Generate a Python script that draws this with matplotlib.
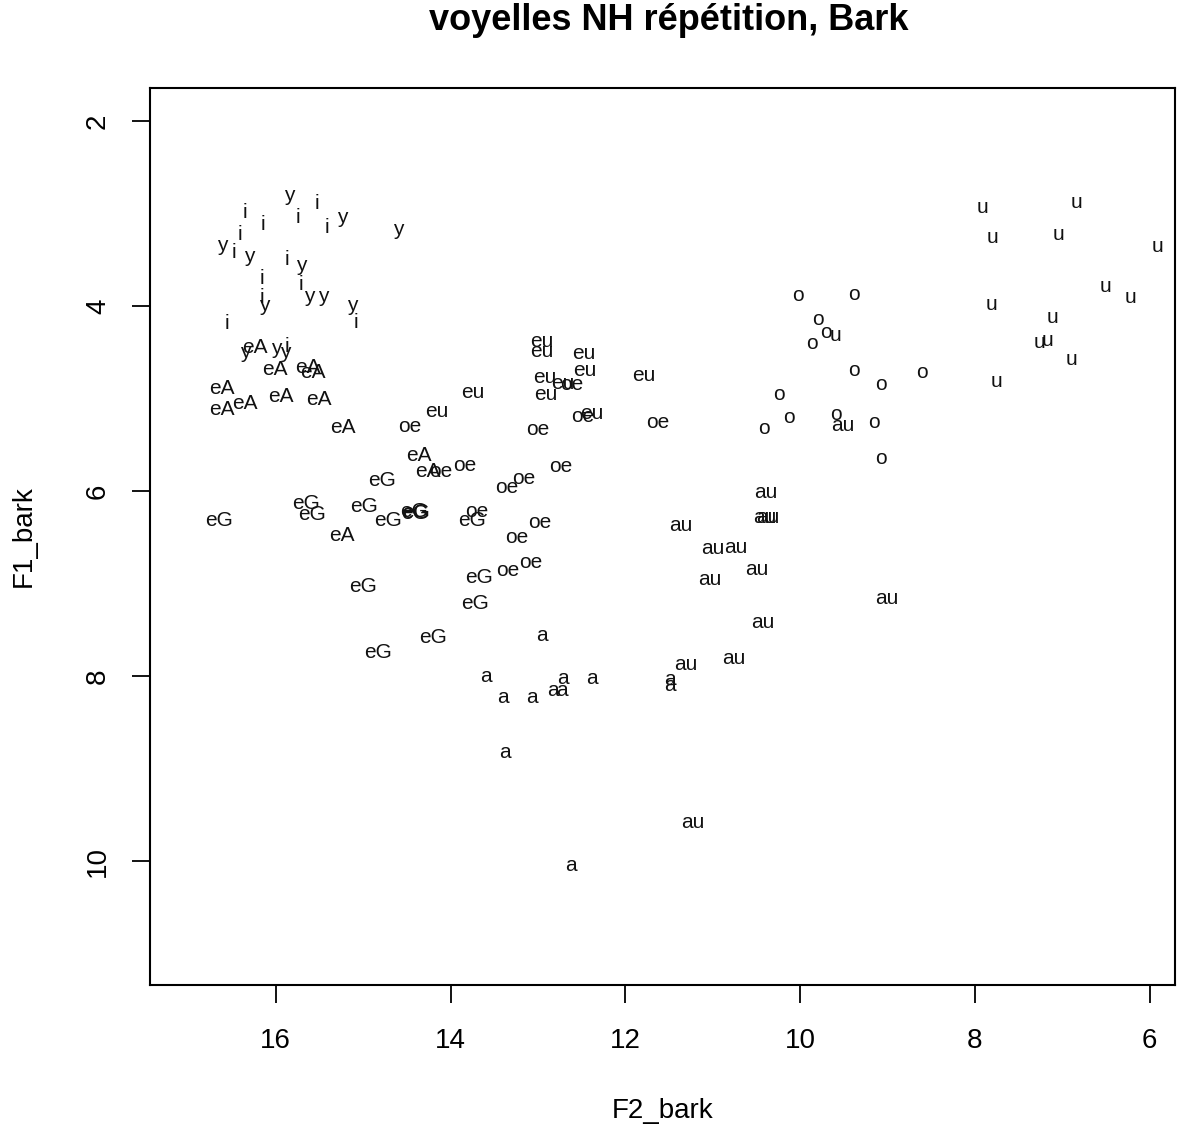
import matplotlib
matplotlib.use("Agg")
import matplotlib.pyplot as plt

plt.rcParams['font.family'] = ['Liberation Sans', 'DejaVu Sans']

# F2 / F1 in Bark, per vowel
i_f2 = [15.53, 16.35, 15.75, 16.15, 15.42, 16.41, 16.48, 15.87, 16.16, 15.71, 16.16, 16.56, 15.08, 15.87]
i_f1 = [2.89, 2.99, 3.04, 3.12, 3.15, 3.23, 3.42, 3.50, 3.70, 3.77, 3.91, 4.19, 4.18, 4.44]

y_f2 = [15.85, 15.24, 14.60, 16.61, 16.30, 15.71, 15.62, 15.46, 16.13, 15.13, 16.35, 15.99, 15.89]
y_f1 = [2.80, 3.04, 3.17, 3.34, 3.46, 3.56, 3.90, 3.90, 3.99, 3.99, 4.50, 4.46, 4.50]

eA_f2 = [16.24, 16.01, 15.63, 15.58, 16.62, 15.94, 15.51, 16.62, 16.35, 15.23, 14.36, 14.26, 15.24]
eA_f1 = [4.45, 4.69, 4.66, 4.72, 4.89, 4.98, 5.01, 5.12, 5.05, 5.31, 5.61, 5.79, 6.48]

eG_f2 = [14.78, 16.65, 15.65, 15.59, 14.99, 14.72, 14.42, 14.40, 14.41, 13.76, 15.00, 13.67, 13.72, 14.20, 14.83]
eG_f1 = [5.88, 6.32, 6.13, 6.25, 6.17, 6.32, 6.22, 6.23, 6.24, 6.32, 7.03, 6.93, 7.22, 7.58, 7.74]

oe_f2 = [14.47, 14.11, 13.84, 12.61, 12.49, 13.00, 12.74, 13.36, 13.16, 13.70, 12.98, 13.24, 13.35, 13.08, 11.63]
oe_f1 = [5.30, 5.79, 5.72, 4.85, 5.19, 5.33, 5.73, 5.96, 5.86, 6.22, 6.34, 6.50, 6.86, 6.77, 5.26]

eu_f2 = [12.96, 12.96, 12.48, 12.46, 12.92, 12.72, 12.91, 11.79, 13.75, 14.16, 12.38]
eu_f1 = [4.38, 4.49, 4.51, 4.70, 4.77, 4.84, 4.95, 4.75, 4.93, 5.14, 5.16]

a_f2 = [12.95, 13.60, 13.40, 13.07, 12.72, 12.83, 12.73, 12.38, 11.49, 11.49, 13.38, 12.62]
a_f1 = [7.56, 8.00, 8.23, 8.23, 8.03, 8.16, 8.16, 8.03, 8.04, 8.10, 8.83, 10.05]

au_f2 = [10.39, 10.41, 10.37, 11.37, 11.00, 10.74, 10.50, 11.03, 9.01, 10.43, 10.76, 11.31, 11.23, 9.51]
au_f1 = [6.01, 6.29, 6.29, 6.37, 6.62, 6.61, 6.85, 6.96, 7.16, 7.42, 7.81, 7.87, 9.58, 5.29]

o_f2 = [10.02, 9.39, 9.80, 9.70, 9.86, 9.38, 8.61, 9.07, 10.24, 10.13, 10.42, 9.59, 9.16, 9.07]
o_f1 = [3.89, 3.87, 4.14, 4.28, 4.40, 4.70, 4.72, 4.85, 4.96, 5.20, 5.32, 5.17, 5.26, 5.65]

u_f2 = [9.60, 7.91, 6.84, 7.80, 7.04, 5.91, 6.51, 6.22, 7.81, 7.11, 7.26, 7.17, 6.89, 7.75]
u_f1 = [4.32, 2.93, 2.88, 3.26, 3.23, 3.36, 3.79, 3.91, 3.98, 4.12, 4.39, 4.37, 4.58, 4.81]

groups = [
    ("i", i_f2, i_f1), ("y", y_f2, y_f1), ("eA", eA_f2, eA_f1), ("eG", eG_f2, eG_f1),
    ("oe", oe_f2, oe_f1), ("eu", eu_f2, eu_f1), ("a", a_f2, a_f1), ("au", au_f2, au_f1),
    ("o", o_f2, o_f1), ("u", u_f2, u_f1),
]

fig = plt.figure(figsize=(11.92, 11.27), dpi=100)
ax = fig.add_axes([0.1258, 0.126, 0.86, 0.796])

for lab, xs, ys in groups:
    for x, y in zip(xs, ys):
        ax.text(x, y, lab, ha='center', va='center', fontsize=15, color='#111111')

ax.set_xlim(17.44, 5.71)
ax.set_ylim(11.34, 1.64)
ax.set_xticks([16, 14, 12, 10, 8, 6])
ax.set_yticks([2, 4, 6, 8, 10])
for lbl in ax.get_yticklabels():
    lbl.set_rotation(90)
    lbl.set_va('center')
ax.tick_params(axis='both', direction='out', length=13, width=1.3, labelsize=20)
ax.tick_params(axis='x', pad=18)
ax.tick_params(axis='y', pad=15)
for s in ax.spines.values():
    s.set_linewidth(1.5)

ax.set_xlabel("F2_bark", fontsize=20, labelpad=32)
ax.set_ylabel("F1_bark", fontsize=20, labelpad=35)
fig.text(0.561, 0.982, "voyelles NH répétition, Bark", ha='center', va='center',
         fontsize=26, fontweight='bold')

fig.savefig("out.png", dpi=100)
